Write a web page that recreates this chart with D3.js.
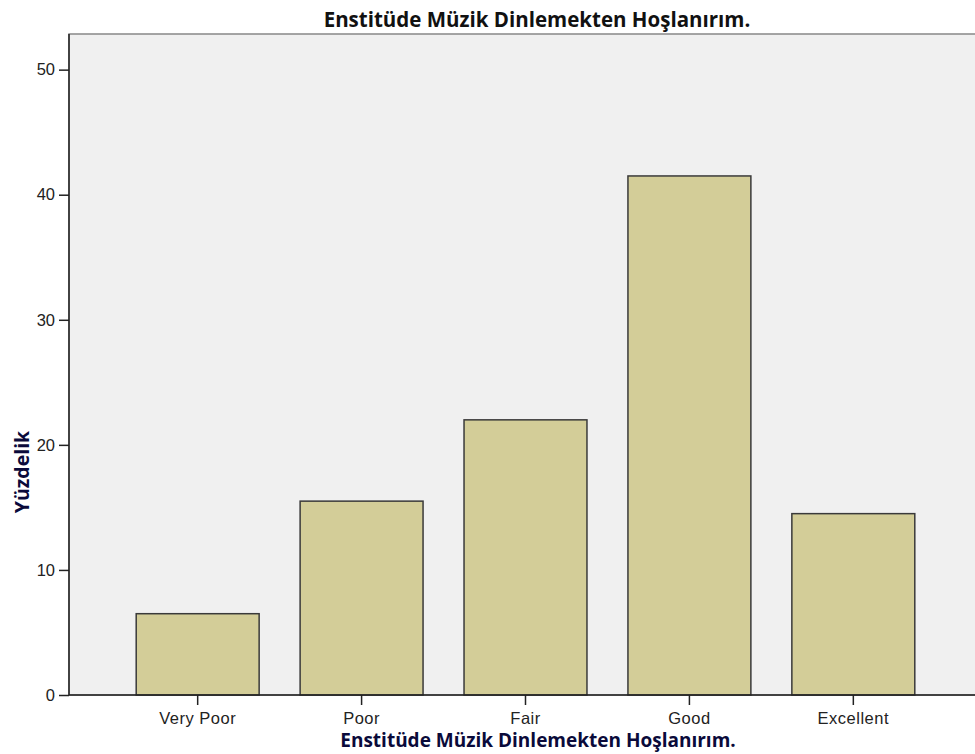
<!DOCTYPE html>
<html>
<head>
<meta charset="utf-8">
<script src="https://cdn.jsdelivr.net/npm/d3@7"></script>
<style>
  body { margin: 0; background: #fff; }
  svg { display: block; }
</style>
</head>
<body>
<svg width="975" height="754"></svg>
<script>
let categories = ['Very Poor', 'Poor', 'Fair', 'Good', 'Excellent']
let values = [6.5, 15.5, 22.0, 41.5, 14.5]
let yTicks = [0, 10, 20, 30, 40, 50]
let title = 'Enstitüde Müzik Dinlemekten Hoşlanırım.'

let data = categories.map((c, i) => ({ name: c, value: values[i] }))

let svg = d3.select('svg')
let plotLeft = 69, plotTop = 34, plotBottom = 695, plotRight = 1007

let x = d3.scaleBand()
    .domain(categories)
    .range([plotLeft, 982])
    .paddingInner(0.25)
    .paddingOuter(0.41)

let y = d3.scaleLinear()
    .domain([0, 52.85])
    .range([plotBottom, plotTop])

// plot background
svg.append('rect')
    .attr('x', plotLeft)
    .attr('y', plotTop)
    .attr('width', plotRight - plotLeft)
    .attr('height', plotBottom - plotTop)
    .attr('fill', '#f0f0f0')
    .attr('stroke', '#888')
    .attr('stroke-width', 1.5)

svg.selectAll('rect.bar')
    .data(data)
    .enter()
    .append('rect')
    .attr('class', 'bar')
    .attr('x', d => x(d.name))
    .attr('y', d => y(d.value))
    .attr('width', x.bandwidth())
    .attr('height', d => plotBottom - y(d.value))
    .attr('fill', '#d3cd98')
    .attr('stroke', '#3a3a3a')
    .attr('stroke-width', 1.5)

let tickFont = 'Arial, "Liberation Sans", sans-serif'

// y axis
let yAxis = svg.append('g')
    .attr('transform', 'translate(' + plotLeft + ',0)')
    .call(d3.axisLeft(y).tickValues(yTicks).tickSize(10).tickPadding(4))
yAxis.select('.domain').remove()
yAxis.append('line')
    .attr('y1', plotTop).attr('y2', plotBottom)
    .attr('stroke', '#222').attr('stroke-width', 1.5)
yAxis.selectAll('.tick line').attr('stroke', '#222').attr('stroke-width', 1.5)
yAxis.selectAll('.tick text')
    .attr('fill', '#222')
    .style('font-family', tickFont)
    .style('font-size', '16.5px')

// x axis
let xAxis = svg.append('g')
    .attr('transform', 'translate(0,' + plotBottom + ')')
    .call(d3.axisBottom(x).tickSize(10).tickPadding(7))
xAxis.select('.domain').remove()
xAxis.append('line')
    .attr('x1', plotLeft).attr('x2', 975)
    .attr('stroke', '#222').attr('stroke-width', 1.5)
xAxis.selectAll('.tick line').attr('stroke', '#222').attr('stroke-width', 1.5)
xAxis.selectAll('.tick text')
    .attr('fill', '#222')
    .style('font-family', tickFont)
    .style('font-size', '16.5px')
    .style('letter-spacing', '0.5px')

let titleFont = '"Open Sans", sans-serif'

svg.append('text')
    .text(title)
    .attr('x', 537)
    .attr('y', 27)
    .attr('text-anchor', 'middle')
    .attr('fill', '#111')
    .style('font-family', titleFont)
    .style('font-weight', 'bold')
    .style('font-size', '20.5px')

svg.append('text')
    .text(title)
    .attr('x', 538)
    .attr('y', 747)
    .attr('text-anchor', 'middle')
    .attr('fill', '#0a0a3a')
    .style('font-family', titleFont)
    .style('font-weight', 'bold')
    .style('font-size', '19px')

svg.append('text')
    .text('Yüzdelik')
    .attr('transform', 'translate(29,472) rotate(-90)')
    .attr('text-anchor', 'middle')
    .attr('fill', '#0a0a3a')
    .style('font-family', titleFont)
    .style('font-weight', 'bold')
    .style('font-size', '19.5px')
</script>
</body>
</html>
